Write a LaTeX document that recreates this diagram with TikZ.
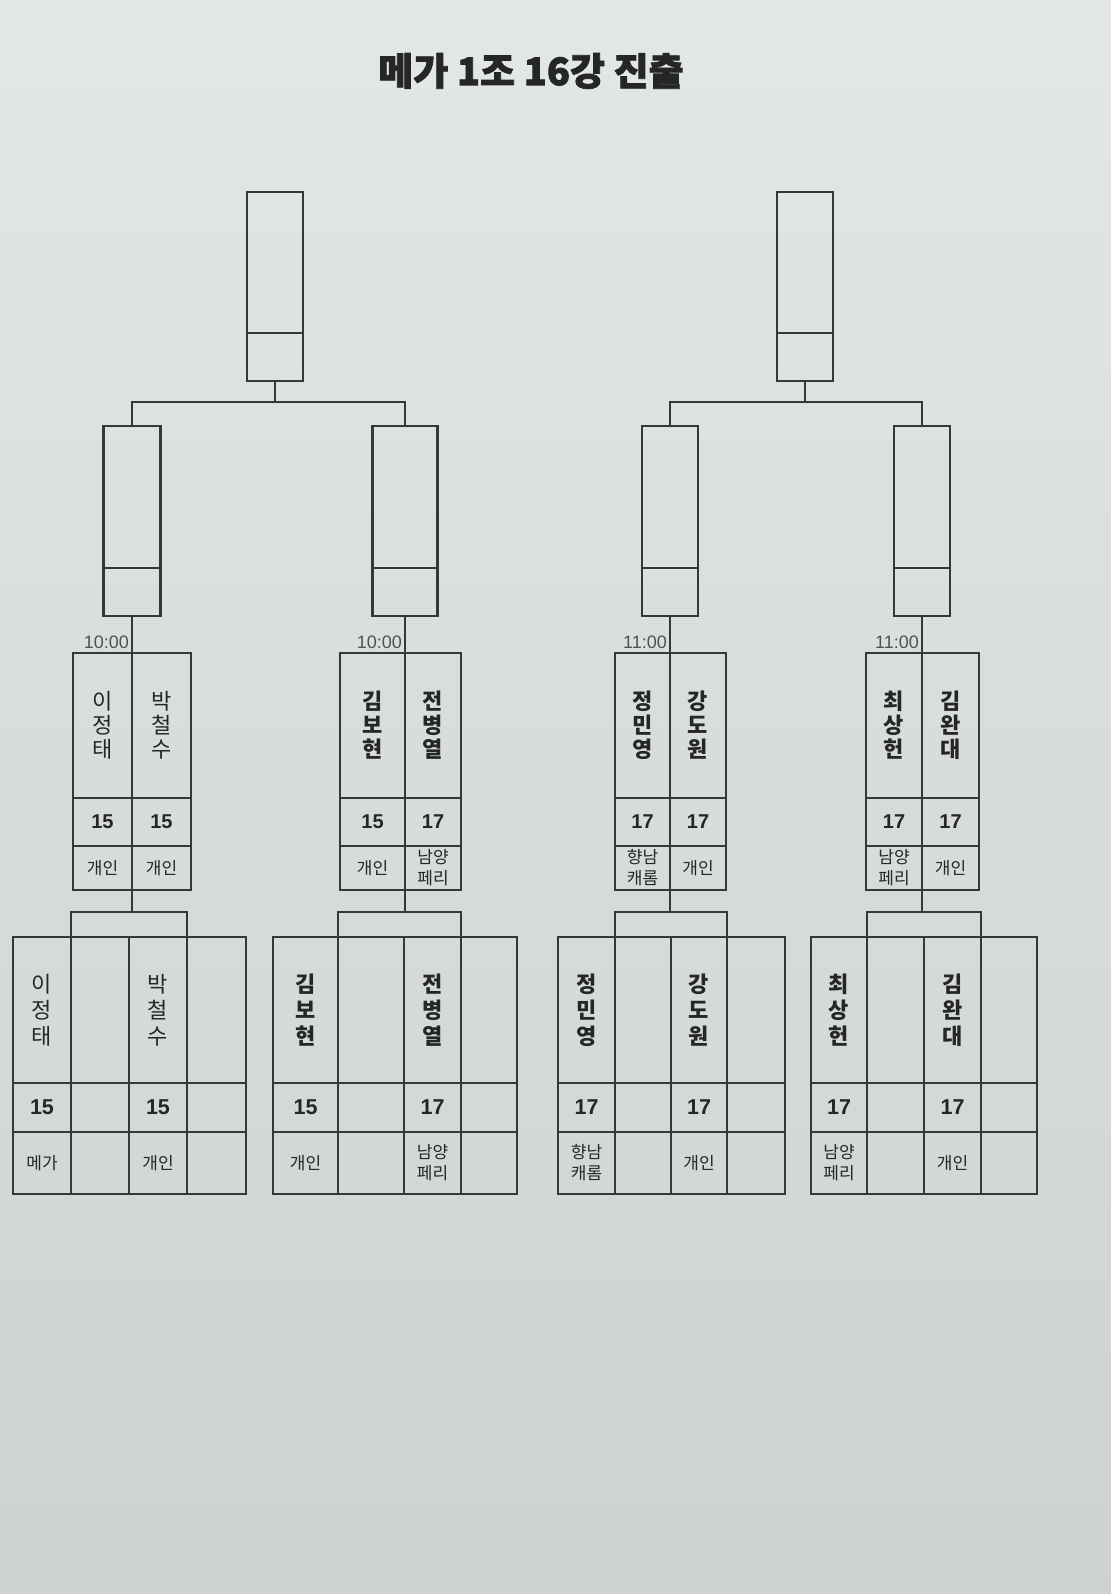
\documentclass[tikz,border=0pt]{standalone}
\usepackage{fontspec}
\setmainfont{Noto Sans CJK KR}
\newfontfamily\numfont{Liberation Sans}
\newfontfamily\titulofont{Noto Sans CJK KR}[BoldFeatures={FakeBold=2}]
\usetikzlibrary{calc}

\definecolor{papel}{RGB}{226,232,229}
\definecolor{papelb}{RGB}{204,209,210}
\definecolor{tinta}{RGB}{55,55,55}
\definecolor{letra}{RGB}{38,38,38}
\pagecolor{papel}

\begin{document}
\begin{tikzpicture}[x=1pt,y=-1pt]
  % Definimos los estilos para las casillas y los textos
  \tikzstyle{celda} = [draw=tinta, line width=2.2pt, inner sep=0pt, outer sep=0pt, anchor=north west];
  \tikzstyle{linea} = [draw=tinta, line width=2.2pt];
  \tikzstyle{nombre} = [text=letra, align=center, inner sep=0pt];
  \tikzstyle{puntoM} = [text=letra, inner sep=0pt, font=\numfont\bfseries\fontsize{20}{20}\selectfont];
  \tikzstyle{puntoT} = [text=letra, inner sep=0pt, font=\numfont\bfseries\fontsize{21.5}{21.5}\selectfont];
  \tikzstyle{equipo} = [text=letra, align=center, inner sep=0pt, font=\fontsize{17}{21}\selectfont];
  \tikzstyle{hora} = [text=letra!80, inner sep=0pt, anchor=south east, font=\numfont\fontsize{18}{18}\selectfont];

  % Fondo (la hoja)
  \useasboundingbox (0,0) rectangle (1110,1594);
  \fill[papel] (-20,-20) rectangle (1130,1614);
  \shade[top color=papel, bottom color=papelb] (-20,-20) rectangle (1130,1614);

  % Titulo
  \node[text=letra, font=\titulofont\bfseries\fontsize{38}{38}\selectfont] (titulo) at (531,71) {메가 1조 16강 진출};

  % Cajas de arriba
  \node[celda, minimum width=56pt, minimum height=189pt] (finalL) at (247,192) {};
  \draw[linea] ($(finalL.south west)+(0,-48)$) -- ($(finalL.south east)+(0,-48)$);
  \coordinate (barraL) at ($(finalL.south)+(0,21)$);
  \node[celda, minimum width=56pt, minimum height=189pt] (finalR) at (777,192) {};
  \draw[linea] ($(finalR.south west)+(0,-48)$) -- ($(finalR.south east)+(0,-48)$);
  \coordinate (barraR) at ($(finalR.south)+(0,21)$);

  % Cada grupo: semifinal, partido y tabla
  \foreach \i/\pa/\pb/\pc/\ta/\tb/\tc/\td/\te/\ws/\hr/\peso/\na/\nb/\sa/\sb/\ea/\eb/\fa/\fb in {
    1/73/132/191/13/71/129/187/246/57/10:00/\mdseries/{이\\정\\태}/{박\\철\\수}/15/15/개인/개인/메가/개인,
    2/340/405/461/273/338/404/461/517/65/10:00/\bfseries/{김\\보\\현}/{전\\병\\열}/15/17/개인/{남양\\페리}/개인/{남양\\페리},
    3/615/670/726/558/615/671/727/785/56/11:00/\bfseries/{정\\민\\영}/{강\\도\\원}/17/17/{향남\\캐롬}/개인/{향남\\캐롬}/개인,
    4/866/922/979/811/867/924/981/1037/56/11:00/\bfseries/{최\\상\\헌}/{김\\완\\대}/17/17/{남양\\페리}/개인/{남양\\페리}/개인}
  {
    % caja de semifinal
    \node[celda, minimum width=\ws pt, minimum height=190pt, anchor=north] (semi\i) at (\pb,426) {};
    \draw[linea] ($(semi\i.south west)+(0,-48)$) -- ($(semi\i.south east)+(0,-48)$);

    % casillas del partido
    \foreach \colu/\xl/\xr in {a/\pa/\pb, b/\pb/\pc} {
      \foreach \fila/\ya/\yb in {n/653/798, p/798/846, e/846/890} {
        \pgfmathsetmacro\ancho{\xr-\xl}
        \pgfmathsetmacro\alto{\yb-\ya}
        \node[celda, minimum width=\ancho pt, minimum height=\alto pt] (m\i\colu\fila) at (\xl,\ya) {};
      }
    }

    % casillas de la tabla
    \foreach \colu/\xl/\xr in {a/\ta/\tb, b/\tb/\tc, c/\tc/\td, d/\td/\te} {
      \foreach \fila/\ya/\yb in {n/937/1083, p/1083/1132, e/1132/1194} {
        \pgfmathsetmacro\ancho{\xr-\xl}
        \pgfmathsetmacro\alto{\yb-\ya}
        \node[celda, minimum width=\ancho pt, minimum height=\alto pt] (t\i\colu\fila) at (\xl,\ya) {};
      }
    }

    % hora
    \node[hora] (hora\i) at ($(semi\i.south)+(-3,33)$) {\hr};

    % textos del partido
    \node[nombre, font=\fontsize{22}{24}\selectfont\peso] at (m\i an) {\na};
    \node[nombre, font=\fontsize{22}{24}\selectfont\peso] at (m\i bn) {\nb};
    \node[puntoM] at (m\i ap) {\sa};
    \node[puntoM] at (m\i bp) {\sb};
    \node[equipo] at (m\i ae) {\ea};
    \node[equipo] at (m\i be) {\eb};

    % textos de la tabla
    \node[nombre, font=\fontsize{22}{26}\selectfont\peso] at (t\i an) {\na};
    \node[nombre, font=\fontsize{22}{26}\selectfont\peso] at (t\i cn) {\nb};
    \node[puntoT] at (t\i ap) {\sa};
    \node[puntoT] at (t\i cp) {\sb};
    \node[equipo] at (t\i ae) {\fa};
    \node[equipo] at (t\i ce) {\fb};

    % conectores
    \draw[linea] (semi\i.south) -- (m\i an.north east);
    \coordinate (barra\i) at ($(m\i ae.south east)+(0,22)$);
    \draw[linea] (m\i ae.south east) -- (barra\i);
    \draw[linea] (t\i bn.north west) |- (barra\i) -| (t\i dn.north west);
  }

  % Conectores de arriba
  \draw[linea] (finalL.south) -- (barraL);
  \draw[linea] (semi1.north) |- (barraL) -| (semi2.north);
  \draw[linea] (finalR.south) -- (barraR);
  \draw[linea] (semi3.north) |- (barraR) -| (semi4.north);
\end{tikzpicture}
\end{document}
